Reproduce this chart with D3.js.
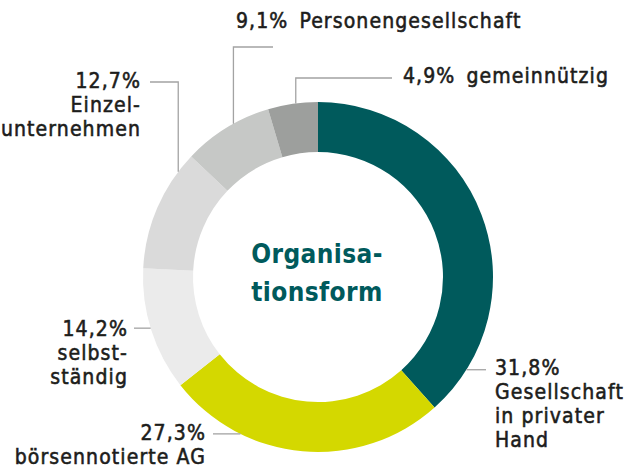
<!DOCTYPE html>
<html>
<head>
<meta charset="utf-8">
<script src="https://cdn.jsdelivr.net/npm/d3@7"></script>
<style>
	body { margin: 0; background: #fff; }
	svg { display: block; }
	.lbl { font-family: "DejaVu Sans Condensed", "DejaVu Sans", sans-serif; font-stretch: condensed; font-size: 21px; fill: #1d1d1b; stroke: #1d1d1b; stroke-width: 0.55px; letter-spacing: 1.1px; }
	.title { font-family: "DejaVu Sans Condensed", "DejaVu Sans", sans-serif; font-stretch: condensed; font-weight: bold; font-size: 26px; fill: #005a5c; letter-spacing: 0.4px; }
	.leader { fill: none; stroke: #a3a3a3; stroke-width: 1.3; }
</style>
</head>
<body>
<svg class="donut" width="624" height="470"></svg>
<script>
// slices clockwise from 12 o'clock
var categories = ["Gesellschaft in privater Hand", "börsennotierte AG", "selbstständig", "Einzelunternehmen", "Personengesellschaft", "gemeinnützig"];
var percentLabels = ["31,8%", "27,3%", "14,2%", "12,7%", "9,1%", "4,9%"];
var nameLines = [["Gesellschaft", "in privater", "Hand"], ["börsennotierte AG"], ["selbst-", "ständig"], ["Einzel-", "unternehmen"], ["Personengesellschaft"], ["gemeinnützig"]];
// slice sizes as they are drawn in the picture (not exactly the printed %)
var sliceShares = [38.4, 26.0, 11.4, 11.3, 8.3, 4.6];
var colors = ["#005a5c", "#d4d800", "#ebebeb", "#dadada", "#c6c8c6", "#9d9f9d"];
var titleLines = ["Organisa-", "tionsform"];

var chart = {
	cx: 318,
	cy: 277,
	outer: 175,
	inner: 125,
	lineHeight: 24,
	// leader: angle on ring (deg), optional elbow y, end x ; label: anchor, x, first baseline, inline?
	labels: [
		{ angle: 122,   elbowY: null, endX: 486, anchor: "start", x: 495, y: 375, inline: false },
		{ angle: 206.3, elbowY: null, endX: 213, anchor: "end",   x: 206, y: 440, inline: false },
		{ angle: 253,   elbowY: null, endX: 134, anchor: "end",   x: 128, y: 336, inline: false },
		{ angle: 307,   elbowY: 82,   endX: 150, anchor: "end",   x: 141, y: 88,  inline: false },
		{ angle: 331.1, elbowY: 47,   endX: 273, anchor: "start", x: 236, y: 28,  inline: true },
		{ angle: 352.7, elbowY: 78,   endX: 392, anchor: "start", x: 403, y: 83,  inline: true }
	]
};

var svg = d3.select(".donut");
var g = svg.append("g").attr("transform", "translate(" + chart.cx + "," + chart.cy + ")");

var pie = d3.pie().sort(null).value(function(d) { return d; });
var arc = d3.arc().innerRadius(chart.inner).outerRadius(chart.outer);

g.selectAll(".slice")
	.data(pie(sliceShares))
	.enter().append("path")
	.attr("class", "slice")
	.attr("d", arc)
	.attr("fill", function(d, i) { return colors[i]; });

// leader lines
function ringPoint(deg) {
	var a = deg * Math.PI / 180;
	return [chart.outer * Math.sin(a), -chart.outer * Math.cos(a)];
}

var line = d3.line();

g.selectAll(".leader")
	.data(chart.labels)
	.enter().append("path")
	.attr("class", "leader")
	.attr("d", function(d) {
		var p = ringPoint(d.angle);
		var pts = [p];
		if (d.elbowY !== null) {
			pts.push([p[0], d.elbowY - chart.cy]);
			pts.push([d.endX - chart.cx, d.elbowY - chart.cy]);
		} else {
			pts.push([d.endX - chart.cx, p[1]]);
		}
		return line(pts);
	});

// labels
chart.labels.forEach(function(l, i) {
	var t = svg.append("text")
		.attr("class", "lbl")
		.attr("text-anchor", l.anchor)
		.attr("x", l.x)
		.attr("y", l.y);
	if (l.inline) {
		t.append("tspan").text(percentLabels[i]);
		t.append("tspan").attr("dx", 11).text(nameLines[i][0]);
	} else {
		t.append("tspan").attr("x", l.x).attr("y", l.y).text(percentLabels[i]);
		nameLines[i].forEach(function(s, j) {
			t.append("tspan")
				.attr("x", l.x)
				.attr("y", l.y + (j + 1) * chart.lineHeight)
				.text(s);
		});
	}
});

// title in the hole
svg.selectAll(".title")
	.data(titleLines)
	.enter().append("text")
	.attr("class", "title")
	.attr("text-anchor", "middle")
	.attr("x", chart.cx - 1)
	.attr("y", function(d, i) { return 263 + i * 38; })
	.text(function(d) { return d; });
</script>
</body>
</html>
